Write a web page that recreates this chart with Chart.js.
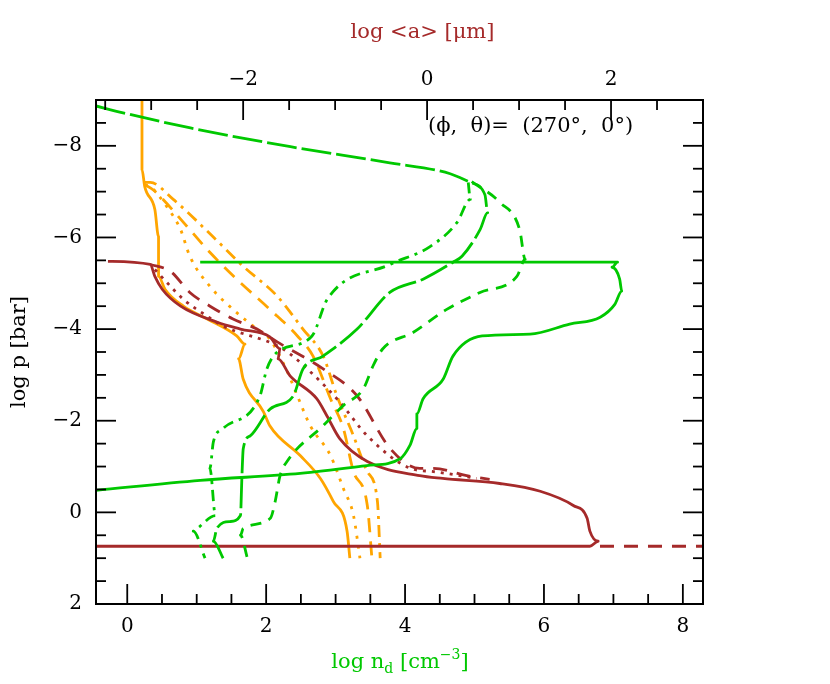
<!DOCTYPE html>
<html><head><meta charset="utf-8">
<script src="https://cdn.jsdelivr.net/npm/chart.js@4"></script>
<style>html,body{margin:0;padding:0;background:#fff}#wrap{width:830px;height:684px}</style>
</head><body><div id="wrap"><canvas id="c"></canvas></div>
<script>
// Bottom axis (log n_d) tick labels and top axis (log <a>) tick labels
const bottomTicks = [0, 2, 4, 6, 8];
const topTicks = [-2, 0, 2];
const leftTicks = [-8, -6, -4, -2, 0, 2];

// Green curves (x = log n_d, y = log p)
const gLongX = [-0.45,-0.06,0.91,2.35,3.78,4.65,4.94,5.15,5.19,5.08,4.82,4.69,4.26,3.78,3.31,2.82,2.53,2.39,2.06,1.77,1.67,1.65,1.63,1.48,1.29,1.24,1.38];
const gLongY = [-8.87,-8.72,-8.39,-7.98,-7.63,-7.39,-7.20,-6.93,-6.54,-6.17,-5.59,-5.46,-5.09,-4.80,-4.00,-3.41,-3.13,-2.54,-2.26,-1.67,-1.39,-0.74,0.07,0.20,0.35,0.63,1.00];
const gDotDashX = [4.91,4.94,4.75,4.36,3.78,2.88,2.66,2.16,2.01,1.91,1.38,1.24,1.19,1.27,1.01,0.95,1.12];
const gDotDashY = [-7.20,-6.83,-6.33,-5.80,-5.41,-4.65,-3.85,-3.50,-3.13,-2.54,-1.83,-1.54,-0.96,0.07,0.35,0.41,1.00];
const gShortX = [4.96,5.37,5.65,5.73,5.61,5.08,4.60,4.12,3.68,3.54,3.40,3.11,2.82,2.30,2.20,2.13,2.06,1.67,1.63,1.73];
const gShortY = [-7.22,-6.76,-6.17,-5.52,-5.15,-4.80,-4.43,-3.93,-3.57,-3.20,-2.70,-2.33,-1.89,-1.11,-0.80,-0.24,0.13,0.35,0.50,1.00];
const gSolidX = [1.05,7.06,6.98,7.09,7.12,7.02,6.81,6.37,5.80,5.11,4.69,4.55,4.26,4.17,4.17,4.07,3.93,3.45,2.49,1.05,-0.45];
const gSolidY = [-5.46,-5.46,-5.35,-5.09,-4.83,-4.54,-4.26,-4.11,-3.89,-3.85,-3.41,-2.91,-2.48,-2.15,-1.83,-1.46,-1.17,-1.02,-0.85,-0.70,-0.48];

// Brown curves (x = log <a>, y = log p)
const bSolidX = [-3.47,-3.01,-2.96,-2.88,-2.68,-2.28,-2.03,-1.71,-1.60,-1.62,-1.49,-1.20,-1.09,-0.95,-0.65,-0.08,0.17,0.79,1.23,1.59,1.74,1.77,1.86,1.77,-3.60];
const bSolidY = [-5.48,-5.41,-5.15,-4.87,-4.50,-4.15,-4.00,-3.83,-3.57,-3.35,-2.98,-2.48,-2.11,-1.61,-1.11,-0.80,-0.74,-0.63,-0.46,-0.15,0.13,0.41,0.63,0.74,0.74];
const bTailX = [1.88,3.0];
const bTailY = [0.74,0.74];
const bDashX = [-3.01,-2.79,-2.58,-2.36,-2.11,-1.85,-1.63,-1.13,-0.76,-0.40,-0.08,0.07,0.43,0.68];
const bDashY = [-5.41,-5.26,-4.80,-4.50,-4.22,-4.00,-3.72,-3.13,-2.54,-1.39,-0.96,-0.96,-0.80,-0.72];
const bDotX = [-2.96,-2.83,-2.65,-2.39,-2.22,-1.57,-1.27,-0.95,-0.65,-0.18,0.07,0.54];
const bDotY = [-5.30,-5.02,-4.65,-4.28,-4.07,-3.57,-3.07,-2.41,-1.67,-0.96,-0.89,-0.74];

// Orange curves (x = log <a>, y = log p)
const oSolidX = [-3.10,-3.10,-3.07,-2.96,-2.92,-2.92,-2.85,-2.65,-2.39,-2.07,-1.98,-2.05,-2.00,-1.78,-1.71,-1.38,-1.16,-1.02,-0.87,-0.84];
const oSolidY = [-9.0,-7.48,-7.11,-6.61,-6.02,-5.15,-4.87,-4.50,-4.22,-3.85,-3.67,-3.35,-2.91,-2.20,-1.89,-1.24,-0.74,-0.24,0.41,1.00];
const oDotX = [-3.07,-3.01,-2.83,-2.68,-2.58,-2.36,-2.11,-1.85,-1.71,-1.52,-1.41,-1.27,-1.05,-0.91,-0.80,-0.73];
const oDotY = [-7.15,-7.11,-6.67,-6.17,-5.59,-4.93,-4.43,-4.00,-3.78,-3.07,-2.54,-1.89,-1.24,-0.52,0.07,1.00];
const oDashX = [-3.07,-2.98,-2.61,-2.36,-2.07,-1.71,-1.41,-1.24,-1.05,-0.91,-0.80,-0.65,-0.60];
const oDashY = [-7.15,-7.04,-6.24,-5.67,-5.09,-4.43,-3.85,-3.41,-2.48,-1.83,-0.89,-0.15,1.00];
const oDotDashX = [-3.07,-3.01,-2.76,-2.33,-2.00,-1.63,-1.35,-1.13,-0.98,-0.80,-0.65,-0.54,-0.51];
const oDotDashY = [-7.20,-7.20,-6.83,-6.02,-5.37,-4.72,-4.00,-3.41,-2.54,-1.67,-0.89,-0.24,1.00];

const GREEN = '#00c800', BROWN = '#a52a2a', ORANGE = '#ffa500';
const zip = (xs, ys) => xs.map((x, i) => ({x, y: ys[i]}));
function ds(xs, ys, color, dash, axis) {
  return {data: zip(xs, ys), borderColor: color, borderWidth: 2.8, borderDash: dash,
    showLine: true, pointRadius: 0, xAxisID: axis, yAxisID: 'y', cubicInterpolationMode: 'monotone', tension: 0.3,
    borderCapStyle: 'butt', borderJoinStyle: 'round'};
}
const datasets = [
  ds(gLongX, gLongY, GREEN, [30,5], 'xb'),
  ds(gDotDashX, gDotDashY, GREEN, [11,6,3,6], 'xb'),
  ds(gShortX, gShortY, GREEN, [11,8], 'xb'),
  ds(gSolidX, gSolidY, GREEN, [], 'xb'),
  ds(bTailX, bTailY, BROWN, [14,10], 'xt'),
  ds(bDashX, bDashY, BROWN, [14,10], 'xt'),
  ds(bDotX, bDotY, BROWN, [3,6], 'xt'),
  ds(bSolidX, bSolidY, BROWN, [], 'xt'),
  ds(oDotX, oDotY, ORANGE, [3,7], 'xt'),
  ds(oDashX, oDashY, ORANGE, [14,9], 'xt'),
  ds(oDotDashX, oDotDashY, ORANGE, [12,6,3,6], 'xt'),
  ds(oSolidX, oSolidY, ORANGE, [], 'xt'),
];
datasets.forEach(d => { d.tension = 0; });

const FONT = '"DejaVu Serif", serif';
const frame = {
  id: 'frame',
  afterDraw(chart) {
    const c = chart.ctx, a = chart.chartArea, s = chart.scales;
    c.save();
    c.strokeStyle = '#000'; c.lineWidth = 2; c.setLineDash([]);
    c.strokeRect(a.left, a.top, a.right - a.left, a.bottom - a.top);
    c.lineWidth = 1.8;
    const tick = (x1, y1, x2, y2) => { c.beginPath(); c.moveTo(x1, y1); c.lineTo(x2, y2); c.stroke(); };
    for (let v = -0.5; v <= 8.3; v += 0.5) {
      const p = s.xb.getPixelForValue(v); if (p < a.left + 1 || p > a.right - 1) continue;
      const maj = Math.abs(v % 2) < 1e-6; tick(p, a.bottom, p, a.bottom - (maj ? 20 : 10));
    }
    for (let v = -3.5; v <= 3; v += 0.5) {
      const p = s.xt.getPixelForValue(v); if (p < a.left + 1 || p > a.right - 1) continue;
      const maj = Math.abs(v % 2) < 1e-6; tick(p, a.top, p, a.top + (maj ? 20 : 10));
    }
    for (let v = -9; v <= 2; v += 0.5) {
      const p = s.y.getPixelForValue(v); if (p < a.top + 1 || p > a.bottom - 1) continue;
      const maj = Math.abs(v % 2) < 1e-6; const L = maj ? 20 : 10;
      tick(a.left, p, a.left + L, p); tick(a.right, p, a.right - L, p);
    }
    c.font = '20px ' + FONT; c.fillStyle = '#000';
    c.textAlign = 'center'; c.textBaseline = 'top';
    bottomTicks.forEach(v => c.fillText(String(v), s.xb.getPixelForValue(v), a.bottom + 13));
    c.textBaseline = 'bottom';
    topTicks.forEach(v => c.fillText(String(v).replace('-', '\u2212'), s.xt.getPixelForValue(v), a.top - 10));
    c.textAlign = 'right'; c.textBaseline = 'middle';
    leftTicks.forEach(v => c.fillText(String(v).replace('-', '\u2212'), a.left - 14, s.y.getPixelForValue(v)));
    // titles
    c.textAlign = 'center';
    c.fillStyle = BROWN; c.font = '21px ' + FONT; c.textBaseline = 'middle';
    c.fillText('log <a> [\u03bcm]', s.xt.getPixelForValue(-0.05), 33);
    // bottom title with sub/superscript
    c.fillStyle = GREEN; c.textAlign = 'left'; c.textBaseline = 'alphabetic';
    const big = '21px ' + FONT, small = '14px ' + FONT;
    const parts = [['log n', big, 0], ['d', small, 5], [' [cm', big, 0], ['\u22123', small, -9], [']', big, 0]];
    let w = 0; parts.forEach(p => { c.font = p[1]; w += c.measureText(p[0]).width; });
    let x = 400 - w / 2;
    parts.forEach(p => { c.font = p[1]; c.fillText(p[0], x, 668 + p[2]); x += c.measureText(p[0]).width; });
    c.fillStyle = '#000'; c.font = big; c.textAlign = 'center'; c.textBaseline = 'middle';
    c.save(); c.translate(20, 352); c.rotate(-Math.PI / 2); c.fillText('log p [bar]', 0, 0); c.restore();
    c.textAlign = 'left';
    c.fillText('(\u03d5,  \u03b8)=  (270\u00b0,  0\u00b0)', 428, 127);
    c.restore();
  }
};

new Chart(document.getElementById('c'), {
  type: 'scatter',
  data: {datasets},
  options: {
    responsive: true, maintainAspectRatio: false, animation: false,
    layout: {padding: {left: 96, right: 127, top: 100, bottom: 80}},
    plugins: {legend: {display: false}, tooltip: {enabled: false}},
    scales: {
      xb: {type: 'linear', position: 'bottom', min: -0.45, max: 8.29, display: false},
      xt: {type: 'linear', position: 'top', min: -3.6, max: 3.0, display: false},
      y: {type: 'linear', min: -9, max: 2, reverse: true, display: false}
    }
  },
  plugins: [frame]
});
</script></body></html>
